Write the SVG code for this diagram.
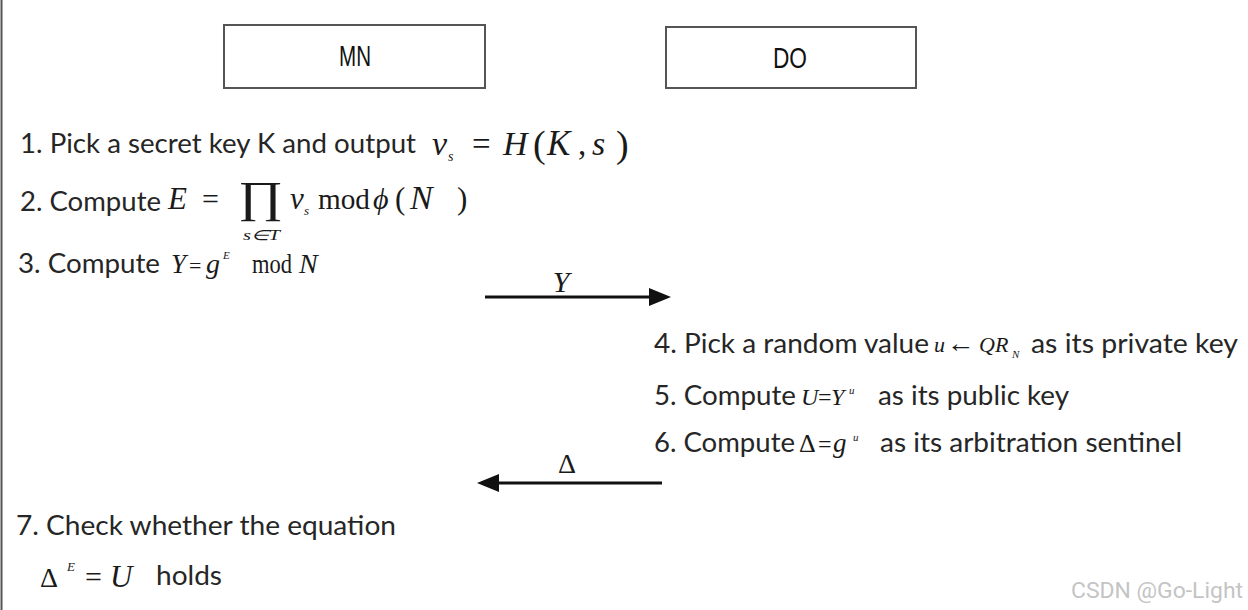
<svg xmlns="http://www.w3.org/2000/svg" width="1248" height="610" viewBox="0 0 1248 610">
<defs>
<style>
.t{font-family:Lato,"Open Sans","Liberation Sans",sans-serif;font-size:26px;fill:#262626}
.m{font-family:"Liberation Serif","Times New Roman",serif;fill:#1a1a1a}
.i{font-style:italic}
.box{fill:#fff;stroke:#555;stroke-width:2}
.lbl{font-family:"Liberation Sans",Arial,sans-serif;font-size:30px;fill:#111}
.ln{stroke:#111;stroke-width:3;fill:none}
</style>
</defs>
<rect width="1248" height="610" fill="#fff"/>
<line x1="1.5" y1="0" x2="1.5" y2="610" stroke="#555" stroke-width="2"/>

<g id="MN">
<rect class="box" x="224" y="25" width="261" height="63"/>
<text class="lbl" x="339" y="66" textLength="32" lengthAdjust="spacingAndGlyphs">MN</text>
</g>
<g id="DO">
<rect class="box" x="666" y="27" width="250" height="61"/>
<text class="lbl" x="773" y="68" textLength="34" lengthAdjust="spacingAndGlyphs">DO</text>
</g>

<g id="connectors">
<line x1="485" y1="297" x2="650" y2="297" class="ln"/>
<path d="M649,288 L671,297 L649,306 Z" fill="#111"/>
<text class="m i" x="561" y="292" font-size="30" text-anchor="middle">Y</text>
<line x1="662" y1="483" x2="498" y2="483" class="ln"/>
<path d="M499,474 L477,483 L499,492 Z" fill="#111"/>
<text class="m" x="567" y="473" font-size="28" text-anchor="middle">Δ</text>
</g>

<g id="step1">
<text class="t" x="20" y="153" textLength="396" lengthAdjust="spacingAndGlyphs">1. Pick a secret key K and output</text>
<text class="m i" x="432" y="155" font-size="34">v</text>
<text class="m i" x="448" y="161" font-size="14">s</text>
<text class="m" x="472" y="155" font-size="33">=</text>
<text class="m i" x="503" y="155" font-size="34">H</text>
<text class="m" x="533" y="157" font-size="38">(</text>
<text class="m i" x="547" y="155" font-size="35">K</text>
<text class="m" x="578" y="155" font-size="33">,</text>
<text class="m i" x="592" y="155" font-size="34">s</text>
<text class="m" x="616" y="157" font-size="38">)</text>
</g>

<g id="step2">
<text class="t" x="20" y="211" textLength="141" lengthAdjust="spacingAndGlyphs">2. Compute</text>
<text class="m i" x="168" y="209" font-size="31">E</text>
<text class="m" x="202" y="209" font-size="30">=</text>
<text class="m" x="238" y="212" font-size="44" textLength="45" lengthAdjust="spacingAndGlyphs">∏</text>
<text class="m i" x="243" y="240" font-size="14" textLength="37" lengthAdjust="spacingAndGlyphs">s∈T</text>
<text class="m i" x="290" y="209" font-size="31">v</text>
<text class="m i" x="304" y="215" font-size="13">s</text>
<text class="m" x="318" y="209" font-size="30" textLength="52" lengthAdjust="spacingAndGlyphs">mod</text>
<text class="m i" x="373" y="209" font-size="30">ϕ</text>
<text class="m" x="395" y="209" font-size="31">(</text>
<text class="m i" x="410" y="209" font-size="34">N</text>
<text class="m" x="457" y="209" font-size="31">)</text>
</g>

<g id="step3">
<text class="t" x="18" y="273" textLength="142" lengthAdjust="spacingAndGlyphs">3. Compute</text>
<text class="m i" x="171" y="273" font-size="27">Y</text>
<text class="m" x="189" y="273" font-size="22">=</text>
<text class="m i" x="206" y="273" font-size="28">g</text>
<text class="m i" x="223" y="259" font-size="11">E</text>
<text class="m" x="252" y="273" font-size="27" textLength="40" lengthAdjust="spacingAndGlyphs">mod</text>
<text class="m i" x="299" y="273" font-size="28">N</text>
</g>

<g id="step4">
<text class="t" x="654" y="353" textLength="275" lengthAdjust="spacingAndGlyphs">4. Pick a random value</text>
<text class="m i" x="934" y="352" font-size="22">u</text>
<text class="m" x="947" y="352" font-size="26" textLength="28" lengthAdjust="spacingAndGlyphs">←</text>
<text class="m i" x="979" y="352" font-size="22">QR</text>
<text class="m i" x="1012" y="358" font-size="11">N</text>
<text class="t" x="1031" y="353" textLength="207" lengthAdjust="spacingAndGlyphs">as its private key</text>
</g>

<g id="step5">
<text class="t" x="654" y="405" textLength="142" lengthAdjust="spacingAndGlyphs">5. Compute</text>
<text class="m i" x="801" y="405" font-size="24">U</text>
<text class="m" x="818" y="405" font-size="24">=</text>
<text class="m i" x="831" y="405" font-size="24">Y</text>
<text class="m i" x="849" y="394" font-size="11">u</text>
<text class="t" x="878" y="405" textLength="191" lengthAdjust="spacingAndGlyphs">as its public key</text>
</g>

<g id="step6">
<text class="t" x="654" y="452" textLength="141" lengthAdjust="spacingAndGlyphs">6. Compute</text>
<text class="m" x="799" y="452" font-size="26">Δ</text>
<text class="m" x="818" y="452" font-size="24">=</text>
<text class="m i" x="833" y="452" font-size="27">g</text>
<text class="m i" x="853" y="441" font-size="11">u</text>
<text class="t" x="880" y="452" textLength="302" lengthAdjust="spacingAndGlyphs">as its arbitration sentinel</text>
</g>

<g id="step7">
<text class="t" x="16" y="535" textLength="380" lengthAdjust="spacingAndGlyphs">7. Check whether the equation</text>
<text class="m" x="40" y="587" font-size="28">Δ</text>
<text class="m i" x="67" y="571" font-size="13">E</text>
<text class="m" x="85" y="587" font-size="30">=</text>
<text class="m i" x="110" y="587" font-size="31">U</text>
<text class="t" x="156" y="585" textLength="66" lengthAdjust="spacingAndGlyphs">holds</text>
</g>

<text x="1071" y="598" textLength="172" lengthAdjust="spacingAndGlyphs" font-family="Roboto,'Liberation Sans',sans-serif" font-size="22" fill="#c4c4c4">CSDN @Go-Light</text>
</svg>
